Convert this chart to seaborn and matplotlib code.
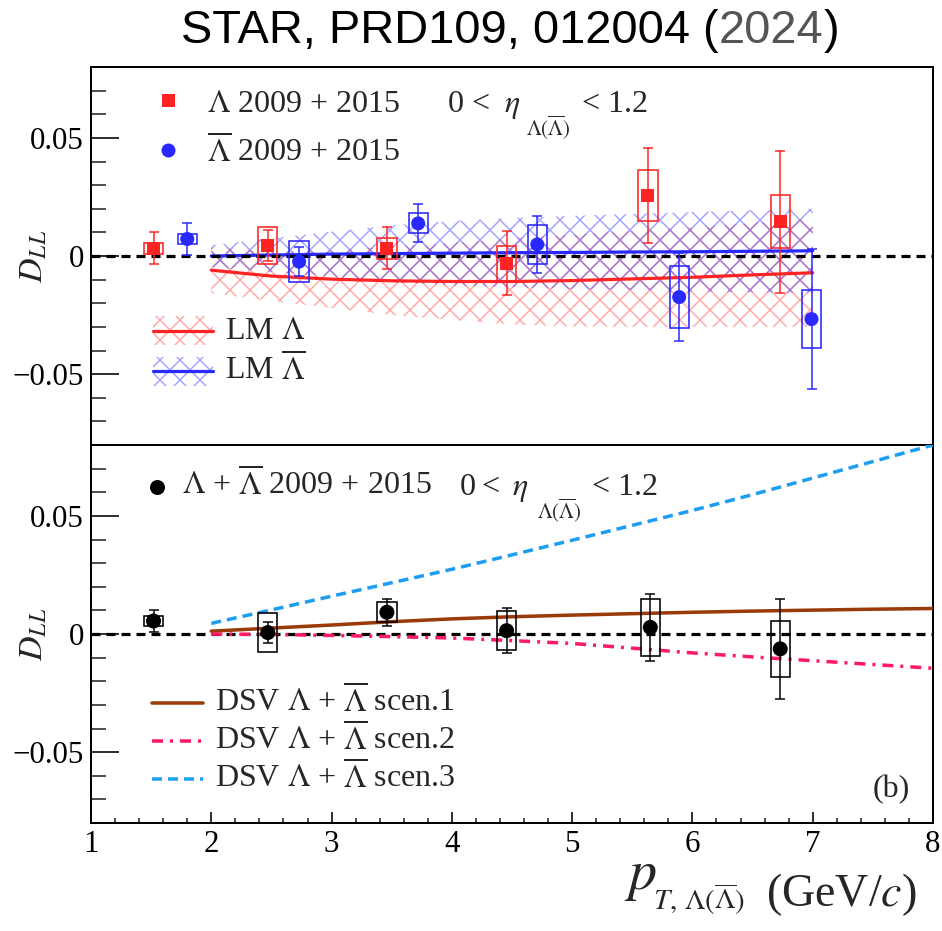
import matplotlib
matplotlib.use("Agg")
import matplotlib.pyplot as plt
import seaborn as sns
from matplotlib.patches import Rectangle
from matplotlib.lines import Line2D
from matplotlib.ticker import MultipleLocator

# ---------------- data ----------------
# Lambda, 2009 + 2015
pt_lam = [1.52, 2.47, 3.46, 4.455, 5.63, 6.73]
dll_lam = [0.0033, 0.0044, 0.0033, -0.0031, 0.0257, 0.0145]
stat_lam = [0.0068, 0.0065, 0.0090, 0.0136, 0.0201, 0.0300]
sys_lam = [0.0023, 0.0077, 0.0044, 0.0075, 0.0108, 0.0113]

# anti-Lambda, 2009 + 2015
pt_lbar = [1.80, 2.73, 3.72, 4.71, 5.89, 6.99]
dll_lbar = [0.0072, -0.0024, 0.0138, 0.0049, -0.0174, -0.0267]
stat_lbar = [0.0067, 0.0062, 0.0080, 0.0122, 0.0186, 0.0297]
sys_lbar = [0.0021, 0.0086, 0.0042, 0.0081, 0.0130, 0.0122]

# Lambda + anti-Lambda combined
pt_sum = [1.52, 2.47, 3.46, 4.455, 5.65, 6.73]
dll_sum = [0.0055, 0.0006, 0.0092, 0.0014, 0.0028, -0.0063]
stat_sum = [0.0047, 0.0046, 0.0058, 0.0094, 0.0141, 0.0211]
sys_sum = [0.0020, 0.0081, 0.0042, 0.0082, 0.0122, 0.0117]

# LM model predictions with uncertainty bands
pt_lm = [2.0, 2.5, 3.0, 3.5, 4.0, 4.5, 5.0, 5.5, 6.0, 6.5, 7.0]
lm_lam = [-0.0060, -0.0085, -0.0098, -0.0105, -0.0108, -0.0108, -0.0104, -0.0097, -0.0090, -0.0080, -0.0071]
lm_lam_lo = [-0.0157, -0.0190, -0.0220, -0.0250, -0.0270, -0.0290, -0.0298, -0.0300, -0.0300, -0.0300, -0.0300]
lm_lam_hi = [0.0037, 0.0020, 0.0024, 0.0040, 0.0054, 0.0074, 0.0090, 0.0106, 0.0120, 0.0140, 0.0158]
lm_lbar = [0.0000, 0.0004, 0.0008, 0.0010, 0.0012, 0.0014, 0.0015, 0.0017, 0.0018, 0.0020, 0.0022]
lm_lbar_lo = [-0.0046, -0.0067, -0.0087, -0.0110, -0.0124, -0.0132, -0.0140, -0.0144, -0.0150, -0.0153, -0.0156]
lm_lbar_hi = [0.0046, 0.0075, 0.0103, 0.0130, 0.0148, 0.0160, 0.0170, 0.0178, 0.0186, 0.0193, 0.0200]

# DSV model scenarios
pt_dsv = [2.0, 2.5, 3.0, 3.5, 4.0, 4.5, 5.0, 5.5, 6.0, 6.5, 7.0, 7.5, 8.0]
dsv_s1 = [0.0012, 0.0025, 0.0038, 0.0052, 0.0064, 0.0073, 0.0080, 0.0086, 0.0092, 0.0097, 0.0101, 0.0105, 0.0108]
dsv_s2 = [0.0000, -0.0002, -0.0006, -0.0011, -0.0017, -0.0028, -0.0040, -0.0060, -0.0080, -0.0097, -0.0113, -0.0129, -0.0145]
dsv_s3 = [0.0045, 0.0102, 0.0160, 0.0217, 0.0274, 0.0335, 0.0397, 0.0460, 0.0523, 0.0590, 0.0660, 0.0730, 0.0800]

xtick_vals = [1, 2, 3, 4, 5, 6, 7, 8]
xtick_labels = ["1", "2", "3", "4", "5", "6", "7", "8"]
ytick_vals = [-0.05, 0.0, 0.05]
ytick_labels = ["\u22120.05", "0", "0.05"]

# ---------------- style ----------------
W, H, DPI = 942, 931, 120


def pt(p):
    """pixels -> points"""
    return p * 72.0 / DPI


def fx(x):
    return x / W


def fy(y):
    return 1.0 - y / H


RED = "#ff2424"
BLUE = "#2828ff"
RED_HATCH = (1.0, 0.25, 0.25, 0.45)
BLUE_HATCH = (0.2, 0.2, 1.0, 0.45)
BROWN = "#9a3a08"
PINK = "#ff1a66"
AZURE = "#1e9ef0"
BOX_W = 0.16

sns.set_theme(style="ticks")
plt.rcParams.update({
    "font.family": ["Liberation Serif", "DejaVu Serif"],
    "mathtext.fontset": "stix",
    "hatch.linewidth": pt(1.5),
    "lines.scale_dashes": False,
    "axes.facecolor": "white",
    "figure.facecolor": "white",
})

FS = pt(32)

fig = plt.figure(figsize=(W / DPI, H / DPI), dpi=DPI)
ax_top = fig.add_axes([fx(91), fy(445), (933 - 91) / W, (445 - 67) / H])
ax_bot = fig.add_axes([fx(91), fy(823), (933 - 91) / W, (823 - 445) / H])


def style_axes(ax, show_x):
    ax.set_xlim(1, 8)
    ax.set_ylim(-0.08, 0.08)
    for s in ax.spines.values():
        s.set_linewidth(pt(2))
        s.set_color("black")
        s.set_visible(True)
    ax.set_yticks(ytick_vals)
    ax.set_yticklabels(ytick_labels)
    ax.yaxis.set_minor_locator(MultipleLocator(0.01))
    ax.set_xticks(xtick_vals)
    ax.set_xticklabels(xtick_labels)
    ax.xaxis.set_minor_locator(MultipleLocator(0.2))
    ax.tick_params(axis="y", which="major", direction="in", length=pt(28), width=pt(1.6),
                   left=True, right=False, labelsize=pt(31), pad=pt(7), colors="black")
    ax.tick_params(axis="y", which="minor", direction="in", length=pt(15), width=pt(1.6),
                   left=True, right=False)
    if show_x:
        ax.tick_params(axis="x", which="major", direction="in", length=pt(11), width=pt(1.6),
                       bottom=True, top=False, labelsize=pt(31), pad=pt(7), colors="black")
        ax.tick_params(axis="x", which="minor", direction="in", length=pt(5), width=pt(1.6),
                       bottom=True, top=False)
    else:
        ax.tick_params(axis="x", which="both", bottom=False, top=False, labelbottom=False)
    ax.set_xlabel("")
    ax.set_ylabel("")
    ax.grid(False)


def draw_points(ax, x, y, stat, sys, color, marker, msize):
    ax.errorbar(x, y, yerr=stat, fmt="none", ecolor=color, elinewidth=pt(1.5),
                capsize=pt(5), capthick=pt(1.5), zorder=4)
    for xi, yi, si in zip(x, y, sys):
        ax.add_patch(Rectangle((xi - BOX_W / 2, yi - si), BOX_W, 2 * si, facecolor="none",
                               edgecolor=color, linewidth=pt(1.6), zorder=4))
    sns.scatterplot(x=x, y=y, ax=ax, marker=marker, s=pt(msize) ** 2, color=color,
                    edgecolor="none", linewidth=0, zorder=5, legend=False)


# ---------------- top panel: Lambda and anti-Lambda ----------------
ax = ax_top
ax.fill_between(pt_lm, lm_lam_lo, lm_lam_hi, facecolor="none", edgecolor=RED_HATCH,
                hatch="xx", linewidth=0, zorder=1)
ax.fill_between(pt_lm, lm_lbar_lo, lm_lbar_hi, facecolor="none", edgecolor=BLUE_HATCH,
                hatch="xx", linewidth=0, zorder=1)
sns.lineplot(x=pt_lm, y=lm_lam, ax=ax, color=RED, linewidth=pt(3.2), zorder=2)
sns.lineplot(x=pt_lm, y=lm_lbar, ax=ax, color=BLUE, linewidth=pt(3.2), zorder=2)
ax.axhline(0, color="black", linewidth=pt(3.2), linestyle=(0, (pt(9), pt(6))), zorder=3)
draw_points(ax, pt_lam, dll_lam, stat_lam, sys_lam, RED, "s", 13)
draw_points(ax, pt_lbar, dll_lbar, stat_lbar, sys_lbar, BLUE, "o", 14)
style_axes(ax, show_x=False)

# ---------------- bottom panel: combined ----------------
ax = ax_bot
ax.axhline(0, color="black", linewidth=pt(3.2), linestyle=(0, (pt(9), pt(6))), zorder=2)
sns.lineplot(x=pt_dsv, y=dsv_s1, ax=ax, color=BROWN, linewidth=pt(3.5), zorder=3)
sns.lineplot(x=pt_dsv, y=dsv_s2, ax=ax, color=PINK, linewidth=pt(3.5),
             linestyle=(0, (pt(11), pt(7), pt(3), pt(7))), zorder=3)
sns.lineplot(x=pt_dsv, y=dsv_s3, ax=ax, color=AZURE, linewidth=pt(3.5),
             linestyle=(0, (pt(10), pt(6))), zorder=3)
draw_points(ax, pt_sum, dll_sum, stat_sum, sys_sum, "black", "o", 15)
style_axes(ax, show_x=True)

# ---------------- legends and annotations ----------------
LAM = r"\Lambda"
LBAR = r"\overline{\Lambda}"
ETA_SUB = r"$\Lambda(\overline{\Lambda})$"


def eta_range(x0, x_lt, x_eta, base, x_sub, sub_base, x_hi):
    fig.text(fx(x0), fy(base), "0", fontsize=FS, va="baseline")
    fig.text(fx(x_lt), fy(base), "<", fontsize=FS, va="baseline")
    fig.text(fx(x_eta), fy(base), r"$\eta$", fontsize=FS, va="baseline")
    fig.text(fx(x_sub), fy(sub_base), ETA_SUB, fontsize=pt(21), va="baseline")
    fig.text(fx(x_hi), fy(base), "< 1.2", fontsize=FS, va="baseline")


# top panel data legend
fig.add_artist(Line2D([fx(168)], [fy(100)], marker="s", markersize=pt(13), color=RED,
                      markeredgewidth=0, linestyle="none", transform=fig.transFigure))
fig.add_artist(Line2D([fx(168)], [fy(150)], marker="o", markersize=pt(14), color=BLUE,
                      markeredgewidth=0, linestyle="none", transform=fig.transFigure))
fig.text(fx(207), fy(112), rf"${LAM}$ 2009 + 2015", fontsize=FS, va="baseline")
fig.text(fx(207), fy(162), rf"${LBAR}$ 2009 + 2015", fontsize=FS, va="baseline")
eta_range(448, 471, 504, 112, 526, 135, 582)

# LM model legend
for ytop, line_y, col, hcol, lab, base in [
    (316, 331, RED, RED_HATCH, rf"LM ${LAM}$", 339),
    (357, 371, BLUE, BLUE_HATCH, rf"LM ${LBAR}$", 380),
]:
    fig.add_artist(Rectangle((fx(153), fy(ytop + 29)), 60 / W, 29 / H, facecolor="none",
                             edgecolor=hcol, hatch="xx", linewidth=0,
                             transform=fig.transFigure))
    fig.add_artist(Line2D([fx(153), fx(213)], [fy(line_y), fy(line_y)], color=col,
                          linewidth=pt(3.2), transform=fig.transFigure))
    fig.text(fx(225), fy(base), lab, fontsize=FS, va="baseline")

# bottom panel data label
fig.add_artist(Line2D([fx(157)], [fy(487)], marker="o", markersize=pt(15), color="black",
                      markeredgewidth=0, linestyle="none", transform=fig.transFigure))
fig.text(fx(182), fy(495), rf"${LAM}$ + ${LBAR}$ 2009 + 2015", fontsize=FS, va="baseline")
eta_range(460, 481, 512, 495, 537, 518, 592)

# DSV legend
for line_y, base, col, ls, n in [
    (703, 712, BROWN, "-", 1),
    (741, 750, PINK, (0, (pt(11), pt(7), pt(3), pt(7))), 2),
    (779, 788, AZURE, (0, (pt(10), pt(6))), 3),
]:
    fig.add_artist(Line2D([fx(152), fx(203)], [fy(line_y), fy(line_y)], color=col,
                          linewidth=pt(3.5), linestyle=ls, transform=fig.transFigure))
    fig.text(fx(215), fy(base), rf"DSV ${LAM}$ + ${LBAR}$ scen.{n}", fontsize=FS,
             va="baseline")

fig.text(fx(873), fy(797), "(b)", fontsize=FS, va="baseline")

# axis titles
for yc in (256, 634):
    fig.text(fx(34), fy(yc), r"$D_{LL}$", fontsize=pt(34), rotation=90, ha="center",
             va="center")

fig.text(fx(624), fy(889), r"$p$", fontsize=pt(56), va="baseline")
fig.text(fx(653), fy(910), r"$T,\,\Lambda(\overline{\Lambda})$", fontsize=pt(29), va="baseline")
fig.text(fx(917), fy(906), r"(GeV/$c$)", fontsize=pt(46), va="baseline", ha="right")

# header with the year in grey
renderer = fig.canvas.get_renderer()
x0 = 181
pieces = [("STAR, PRD109, 012004 (", "black"), ("2024", "#555555"), (")", "black")]
for txt, col in pieces:
    t = fig.text(fx(x0), fy(43), txt, fontsize=pt(47), family="Liberation Sans",
                 color=col, va="baseline", ha="left")
    bb = t.get_window_extent(renderer=renderer)
    x0 += bb.width

fig.savefig("out.png", dpi=DPI, facecolor="white")
